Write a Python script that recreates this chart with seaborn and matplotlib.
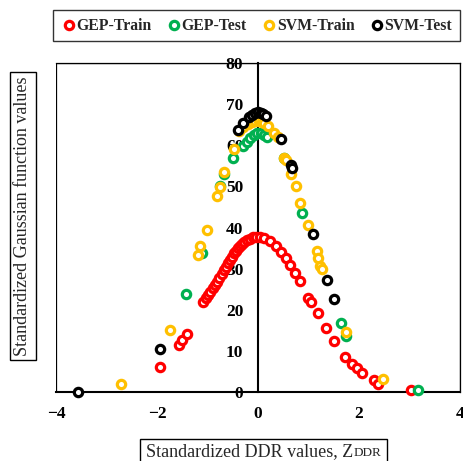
import numpy as np
import pandas as pd
import matplotlib
matplotlib.use("Agg")
import matplotlib.pyplot as plt
from matplotlib.patches import Rectangle
from matplotlib.transforms import Bbox
import seaborn as sns

sns.set_style("white")
plt.rcParams["font.family"] = ["Liberation Serif", "DejaVu Serif"]

# Standardized DDR values (x) and Gaussian function values (y) per series
gep_train_x = [-1.94, -1.56, -1.51, -1.41, -1.08, -1.03, -0.99, -0.95, -0.90, -0.86,
               -0.82, -0.77, -0.72, -0.68, -0.64, -0.60, -0.56, -0.52, -0.48, -0.44,
               -0.40, -0.36, -0.32, -0.28, -0.22, -0.16, -0.10, -0.04, 0.03, 0.12,
               0.24, 0.35, 0.46, 0.55, 0.64, 0.74, 0.83, 0.99, 1.04, 1.18,
               1.34, 1.50, 1.73, 1.86, 1.96, 2.06, 2.29, 2.37, 3.02]
gep_train_y = [6.0, 11.5, 12.6, 14.1, 22.0, 22.8, 23.6, 24.3, 25.2, 26.0,
               26.8, 27.7, 28.8, 29.7, 30.5, 31.4, 32.2, 32.9, 33.7, 34.4,
               35.0, 35.5, 36.0, 36.4, 36.9, 37.3, 37.6, 37.8, 37.8, 37.5,
               36.8, 35.5, 34.1, 32.7, 31.0, 29.0, 27.0, 22.9, 21.9, 19.2,
               15.6, 12.3, 8.5, 6.9, 5.8, 4.6, 2.8, 2.0, 0.5]

gep_test_x = [-1.42, -1.11, -0.75, -0.68, -0.50, -0.30, -0.22, -0.15, -0.08, -0.02,
              0.05, 0.12, 0.18, 0.51, 0.88, 1.64, 1.74, 3.16]
gep_test_y = [23.9, 33.8, 50.0, 53.0, 56.8, 59.8, 60.8, 61.8, 62.5, 63.0,
              63.0, 62.6, 62.0, 56.9, 43.5, 16.8, 13.7, 0.5]

svm_train_x = [-2.71, -1.74, -1.18, -1.14, -1.01, -0.81, -0.76, -0.67, -0.48, -0.37,
               -0.29, -0.20, -0.12, -0.05, 0.02, 0.08, 0.12, 0.20, 0.31, 0.40,
               0.51, 0.55, 0.65, 0.75, 0.84, 0.99, 1.16, 1.19, 1.23, 1.26,
               1.75, 2.48]
svm_train_y = [1.9, 15.0, 33.4, 35.4, 39.3, 47.6, 49.9, 53.4, 59.0, 63.4,
               64.5, 65.2, 65.6, 65.8, 65.9, 65.7, 65.4, 64.8, 63.0, 62.0,
               57.0, 56.3, 52.9, 50.2, 46.0, 40.5, 34.3, 32.6, 30.7, 29.8,
               14.5, 3.2]

svm_test_x = [-3.56, -1.95, -0.39, -0.29, -0.18, -0.12, -0.06, 0.00, 0.05, 0.10,
              0.15, 0.45, 0.65, 0.68, 1.08, 1.36, 1.50]
svm_test_y = [0.0, 10.5, 63.8, 65.5, 66.9, 67.4, 67.8, 68.0, 67.9, 67.6,
              67.2, 61.4, 55.3, 54.5, 38.4, 27.3, 22.6]

series_names = ["GEP-Train", "GEP-Test", "SVM-Train", "SVM-Test"]
series_colors = ["#FF0000", "#00B050", "#FFC000", "#000000"]
x_ticks = [-4, -2, 0, 2, 4]
y_ticks = [0, 10, 20, 30, 40, 50, 60, 70, 80]

frames = []
for name, xs, ys in zip(series_names,
                        [gep_train_x, gep_test_x, svm_train_x, svm_test_x],
                        [gep_train_y, gep_test_y, svm_train_y, svm_test_y]):
    frames.append(pd.DataFrame({"z": xs, "g": ys, "series": name}))
df = pd.concat(frames, ignore_index=True)

W, H = 463, 461
fig = plt.figure(figsize=(W / 100, H / 100), dpi=100)
ax = fig.add_axes([56 / W, 1 - 392 / H, 404 / W, 329 / H])

for name, col in zip(series_names, series_colors):
    sub = df[df["series"] == name]
    sns.scatterplot(data=sub, x="z", y="g", ax=ax, s=36, facecolor="white",
                    edgecolor=col, linewidth=2.3, label=name, zorder=3,
                    clip_on=False)

ax.set_xlim(-4, 4)
ax.set_ylim(0, 80)
ax.set_xticks(x_ticks)
ax.set_yticks(y_ticks)
ax.set_xlabel("")
ax.set_ylabel("")

# vertical axis crosses at zero; thin frame around the plot area
ax.spines["left"].set_position(("data", 0))
ax.spines["left"].set_linewidth(1.5)
ax.spines["bottom"].set_linewidth(1.5)
for side in ["top", "right"]:
    ax.spines[side].set_linewidth(0.9)
ax.add_patch(Rectangle((0, 0), 1, 1, transform=ax.transAxes, fill=False,
                       edgecolor="black", linewidth=0.9, zorder=1))
for sp in ax.spines.values():
    sp.set_color("black")

ax.tick_params(axis="y", direction="out", length=3.6, width=1.2, pad=7,
               labelsize=12.5, colors="black")
ax.tick_params(axis="x", direction="in", length=3.6, width=1.2, pad=10,
               labelsize=12.5, colors="black")
for lab in ax.get_xticklabels() + ax.get_yticklabels():
    lab.set_fontweight("bold")

ax.get_legend().remove()
handles, labels = ax.get_legend_handles_labels()
leg = fig.legend(handles, labels, loc="center", ncol=4,
                 bbox_to_anchor=(53 / W, 1 - 42 / H, 407 / W, 33 / H),
                 mode="expand", frameon=True, fancybox=False,
                 prop={"weight": "bold", "size": 11.3}, handletextpad=0.0,
                 handlelength=1.0, columnspacing=0.8, borderpad=0.5,
                 borderaxespad=0)
leg.get_frame().set_edgecolor("black")
leg.get_frame().set_linewidth(1.0)

fig.text(23 / W, 1 - 216 / H, "Standardized Gaussian function values",
         rotation=90, ha="center", va="center", fontsize=13,
         bbox=dict(boxstyle="square,pad=0.25", facecolor="white",
                   edgecolor="black", linewidth=1.0))

# x-axis title: "Z" followed by a small-caps style "DDR" on the same baseline
base_y = 1 - 456 / H
t_main = fig.text(146 / W, base_y, "Standardized DDR values, Z",
                  ha="left", va="baseline", fontsize=13)
fig.canvas.draw()
renderer = fig.canvas.get_renderer()
ext_main = t_main.get_window_extent(renderer)
t_sub = fig.text(ext_main.x1 / (W), base_y, "DDR", ha="left", va="baseline",
                 fontsize=9.5)
fig.canvas.draw()
ext_sub = t_sub.get_window_extent(renderer)
box = Bbox.union([ext_main, ext_sub])
fig.patches.append(Rectangle((box.x0 - 6, box.y0 - 6), box.width + 12,
                             box.height + 10, transform=None, fill=False,
                             edgecolor="black", linewidth=1.0, figure=fig))

fig.savefig("out.png", dpi=100)
